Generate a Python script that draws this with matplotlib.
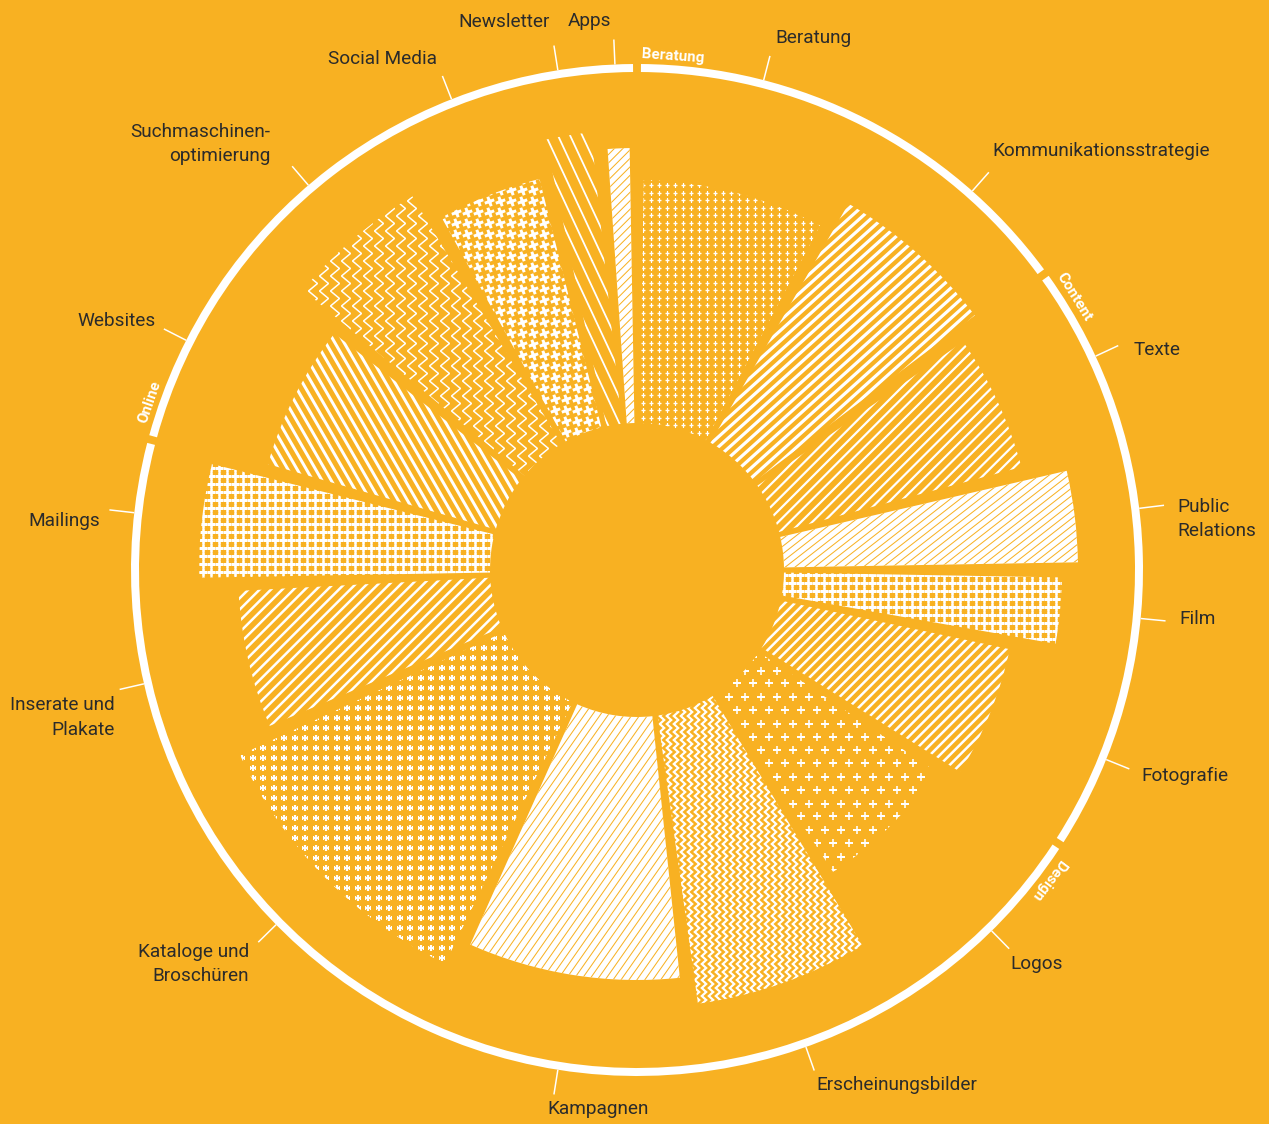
import numpy as np
import matplotlib
matplotlib.use('Agg')
import matplotlib.pyplot as plt
from matplotlib.patches import Wedge
from matplotlib.collections import LineCollection
from matplotlib.markers import MarkerStyle
from matplotlib.transforms import Affine2D

# ---------------- data ----------------
categories = ["Beratung", "Kommunikationsstrategie", "Texte", "Public\nRelations", "Film",
              "Fotografie", "Logos", "Erscheinungsbilder", "Kampagnen", "Kataloge und\nBroschüren",
              "Inserate und\nPlakate", "Mailings", "Websites", "Suchmaschinen-\noptimierung",
              "Social Media", "Newsletter", "Apps"]
groups = ["Beratung", "Beratung", "Content", "Content", "Content", "Content",
          "Design", "Design", "Design", "Design", "Design", "Design",
          "Online", "Online", "Online", "Online", "Online"]
shares = [27, 23, 20, 12, 9, 20, 23, 23, 30, 39, 20, 15, 22, 19, 15, 6, 3]          # angular share (deg)
values = [243, 276, 251, 294, 278, 234, 213, 291, 263, 291, 252, 291, 237, 289, 256, 293, 275]  # radial length
group_names = ["Beratung", "Content", "Design", "Online"]

# ---------------- style ----------------
BG = '#F8B122'
WHITE = 'white'
TXT = '#2b2b2b'
HOLE = 147
RING_R = 506
RING_W = 8
TICK_END = 531
PT = 0.72  # points per pixel at dpi 100

patterns = [
    dict(kind='plus', sp=(8, 7.5), size=5, lw=1.3),
    dict(kind='lines', ang=42, sp=7.5, lw=3.2),
    dict(kind='lines', ang=45, sp=8, lw=2.2),
    dict(kind='lines', ang=38, sp=6, lw=1.0, inverse=True),
    dict(kind='plus', sp=(8, 8), size=7.5, lw=2.6),
    dict(kind='lines', ang=45, sp=7, lw=2.5),
    dict(kind='plus', sp=(16, 13.3), size=8, lw=1.6, stagger=True),
    dict(kind='zigzag', sp=7, period=8, amp=2.2, lw=2.2),
    dict(kind='lines', ang=55, sp=6.5, lw=1.0, inverse=True),
    dict(kind='plus', sp=(10.5, 10), size=6.3, lw=2.2),
    dict(kind='lines', ang=45, sp=8, lw=2.5),
    dict(kind='plus', sp=(8, 8), size=7.5, lw=2.6),
    dict(kind='lines', ang=-60, sp=8, lw=3.0),
    dict(kind='zigzag', sp=11, period=15, amp=4.5, lw=1.5),
    dict(kind='plus', sp=(11, 11), size=10, lw=3.0, rot=20),
    dict(kind='lines', ang=-65, sp=11, lw=1.8),
    dict(kind='lines', ang=45, sp=6, lw=1.0, inverse=True),
]

# label placement relative to tick end: (dx, dy) in pixels (dy up), horizontal alignment
label_place = [
    (5, 18, 'left'), (4, 21, 'left'), (15, -4, 'left'), (13, -14, 'left'), (14, 2, 'left'),
    (12, -7, 'left'), (1, -15, 'left'), (2, -14, 'left'), (-7, -15, 'left'), (-9, -22, 'right'),
    (-5, -28, 'right'), (-9, -11, 'right'), (-8, 8, 'right'), (-22, 22, 'right'),
    (-5, 17, 'right'), (-4, 24, 'right'), (-3, 19, 'right'),
]

plt.rcParams['font.family'] = ['Roboto', 'DejaVu Sans']

fig = plt.figure(figsize=(12.69, 11.24), dpi=100, facecolor=BG)
ax = fig.add_axes([0, 0, 1, 1])
ax.set_xlim(-637, 632)
ax.set_ylim(-554, 570)
ax.set_aspect('equal')
ax.axis('off')

N = len(categories)
gap = (360 - sum(shares)) / N
starts = []
acc = gap / 2
for s in shares:
    starts.append(acc)
    acc += s + gap
ends = [a + s for a, s in zip(starts, shares)]
mids = [(a + e) / 2 for a, e in zip(starts, ends)]


def pol(b, r):
    t = np.radians(b)
    return r * np.sin(t), r * np.cos(t)


def in_sector(x, y, b1, b2, r1, r2, pad=3):
    r = np.hypot(x, y)
    b = np.degrees(np.arctan2(x, y)) % 360
    mid = (b1 + b2) / 2
    d = (b - mid + 180) % 360 - 180
    return (r >= r1 - 15) & (r <= r2 + 15) & (np.abs(d) <= (b2 - b1) / 2 + pad)


for i in range(N):
    b1, b2 = starts[i], ends[i]
    rout = HOLE + values[i]
    p = patterns[i]
    inv = p.get('inverse', False)
    w = Wedge((0, 0), rout, 90 - b2, 90 - b1, width=rout - HOLE,
              facecolor=WHITE if inv else BG, edgecolor='none', linewidth=0)
    ax.add_patch(w)
    col = BG if inv else WHITE
    R = rout + 20
    if p['kind'] == 'lines':
        a = np.radians(p['ang'])
        d = np.array([np.cos(a), np.sin(a)])
        n = np.array([-np.sin(a), np.cos(a)])
        segs = []
        for c in np.arange(-R, R, p['sp']):
            ctr = c * n
            segs.append([ctr - R * d, ctr + R * d])
        lc = LineCollection(segs, colors=col, linewidths=p['lw'] * PT, capstyle='butt')
        ax.add_collection(lc)
        lc.set_clip_path(w)
    elif p['kind'] == 'plus':
        sx, sy = p['sp']
        xs, ys = [], []
        for k, yy in enumerate(np.arange(-R, R, sy)):
            off = sx / 2 if (p.get('stagger') and k % 2) else 0
            xx = np.arange(-R, R, sx) + off
            xs.append(xx)
            ys.append(np.full_like(xx, yy))
        xs = np.concatenate(xs)
        ys = np.concatenate(ys)
        m = in_sector(xs, ys, b1, b2, HOLE, rout)
        ms = MarkerStyle('+', transform=Affine2D().rotate_deg(p.get('rot', 0)))
        sc = ax.scatter(xs[m], ys[m], marker=ms, s=(p['size'] * PT) ** 2,
                        linewidths=p['lw'] * PT, c=col)
        sc.set_clip_path(w)
    elif p['kind'] == 'zigzag':
        segs = []
        yy = np.arange(-R, R, p['period'] / 2)
        sgn = np.where(np.arange(len(yy)) % 2 == 0, -1, 1)
        for x0 in np.arange(-R, R, p['sp']):
            xx = x0 + p['amp'] * sgn
            m = in_sector(xx, yy, b1, b2, HOLE, rout, pad=6)
            if m.sum() < 2:
                continue
            idx = np.where(m)[0]
            lo, hi = max(idx.min() - 1, 0), min(idx.max() + 2, len(yy))
            segs.append(np.column_stack([xx[lo:hi], yy[lo:hi]]))
        lc = LineCollection(segs, colors=col, linewidths=p['lw'] * PT, joinstyle='miter')
        ax.add_collection(lc)
        lc.set_clip_path(w)

# ---------------- outer ring with group gaps ----------------
bounds = [0.0]
for i in range(1, N):
    if groups[i] != groups[i - 1]:
        bounds.append((ends[i - 1] + starts[i]) / 2)
ring_gap = 0.9
for k, g in enumerate(group_names):
    a1 = bounds[k] + ring_gap / 2
    a2 = (bounds[k + 1] if k + 1 < len(bounds) else 360) - ring_gap / 2
    ax.add_patch(Wedge((0, 0), RING_R, 90 - a2, 90 - a1, width=RING_W,
                       facecolor=WHITE, edgecolor='none'))
    lb = bounds[k] + 4.0
    x, y = pol(lb, 515)
    ax.text(x, y, g, color=WHITE, fontsize=11, fontweight='bold',
            rotation=-lb, rotation_mode='anchor', ha='center', va='center')

# ---------------- category ticks and labels ----------------
for i in range(N):
    b = mids[i]
    x1, y1 = pol(b, RING_R)
    x2, y2 = pol(b, TICK_END)
    ax.plot([x1, x2], [y1, y2], color=WHITE, lw=1.5 * PT, solid_capstyle='butt')
    dx, dy, ha = label_place[i]
    ax.text(x2 + dx, y2 + dy, categories[i], color=TXT, fontsize=13.7, ha=ha, va='center',
            multialignment=ha, linespacing=1.45)

fig.savefig('out.png', dpi=100, facecolor=BG)
